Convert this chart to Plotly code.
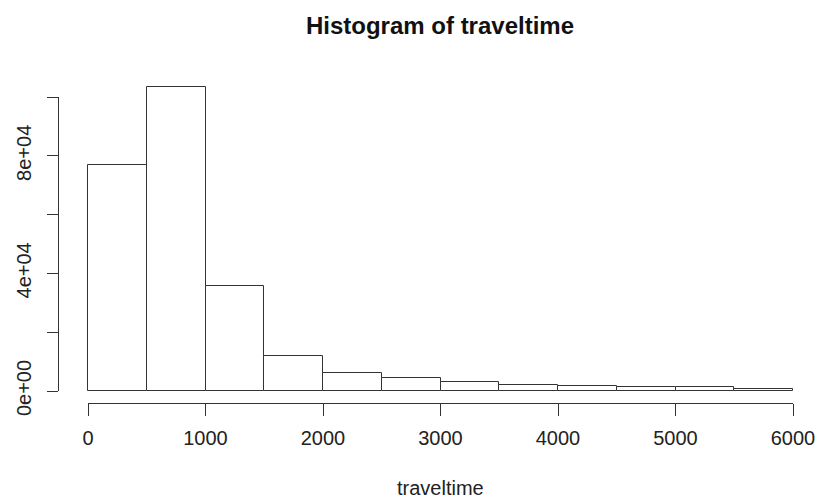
import plotly.graph_objects as go

bin_edges = [0, 500, 1000, 1500, 2000, 2500, 3000, 3500, 4000, 4500, 5000, 5500, 6000]
counts = [77000, 103500, 35700, 11900, 6000, 4350, 2950, 2200, 1750, 1300, 1280, 750]
x_ticks = [0, 1000, 2000, 3000, 4000, 5000, 6000]
y_ticks = [0, 20000, 40000, 60000, 80000, 100000]
y_ticktext = ["0e+00", "", "4e+04", "", "8e+04", ""]

centers = [(a + b) / 2 for a, b in zip(bin_edges[:-1], bin_edges[1:])]
widths = [b - a for a, b in zip(bin_edges[:-1], bin_edges[1:])]

W, H = 817, 499
ml, mr, mt, mb = 58, 0, 70, 96
pw = W - ml - mr
ph = H - mt - mb

# pixel geometry (R-style detached axes)
x0_px = 88          # where x = 0 sits
x6000_px = 793      # where x = 6000 sits
y0_px = 391         # where y = 0 sits
ytop_px = 97        # where y = 1e5 sits
axis_bottom_px = H - mb

py_per_unit = (y0_px - ytop_px) / 100000.0
main_ytop = (y0_px - mt) / py_per_unit
px_per_unit = (x6000_px - x0_px) / 6000.0
main_xmin = (ml - x0_px) / px_per_unit
main_xmax = (W - mr - x0_px) / px_per_unit

line_col = "#333333"
font = dict(family="Liberation Sans, Arial, sans-serif", size=20, color="#222222")

fig = go.Figure()
fig.add_trace(go.Bar(
    x=centers, y=counts, width=widths,
    marker=dict(color="white", line=dict(color=line_col, width=1)),
    hoverinfo="skip", showlegend=False,
))
fig.add_trace(go.Scatter(x=[None], y=[None], yaxis="y2", xaxis="x2",
                         mode="markers", showlegend=False, hoverinfo="skip"))

fig.update_layout(
    width=W, height=H,
    margin=dict(l=ml, r=mr, t=mt, b=mb),
    plot_bgcolor="rgba(0,0,0,0)", paper_bgcolor="white",
    showlegend=False,
    font=font,
    title=dict(text="<b>Histogram of traveltime</b>", x=440 / W, xanchor="center",
               y=1 - 26 / H, yanchor="middle", xref="container", yref="container",
               font=dict(family="Liberation Sans, Arial, sans-serif", size=24, color="#111111")),
    bargap=0,
    xaxis=dict(
        domain=[0, 1], range=[main_xmin, main_xmax], anchor="y",
        showgrid=False, zeroline=False, showline=False, showticklabels=False,
        ticks="", automargin=False,
    ),
    yaxis=dict(
        domain=[(axis_bottom_px - y0_px) / ph, 1], range=[0, main_ytop],
        anchor="x",
        showgrid=False, zeroline=False, showline=False, showticklabels=False,
        ticks="", automargin=False,
    ),
    xaxis2=dict(
        domain=[(x0_px - ml) / pw, (x6000_px - ml) / pw], range=[0, 6000],
        anchor="free", position=0,
        showgrid=False, zeroline=False, showline=True, linecolor=line_col, linewidth=1,
        ticks="outside", ticklen=12, tickcolor=line_col, tickwidth=1,
        tickvals=x_ticks, ticktext=[str(v) for v in x_ticks],
        tickfont=font, automargin=False, ticklabelstandoff=5,
    ),
    yaxis2=dict(
        domain=[(axis_bottom_px - y0_px) / ph, (axis_bottom_px - ytop_px) / ph],
        range=[0, 100000], anchor="free", position=0,
        showgrid=False, zeroline=False, showline=True, linecolor=line_col, linewidth=1,
        ticks="outside", ticklen=11, tickcolor=line_col, tickwidth=1,
        tickvals=y_ticks, ticktext=y_ticktext, tickangle=-90,
        tickfont=font, automargin=False, ticklabelstandoff=8,
    ),
    annotations=[dict(
        text="traveltime", xref="paper", yref="paper",
        x=((x0_px + x6000_px) / 2 - ml) / pw, y=-(488 - axis_bottom_px) / ph,
        xanchor="center", yanchor="middle", showarrow=False, font=font,
    )],
)

fig.write_html("out.html")
